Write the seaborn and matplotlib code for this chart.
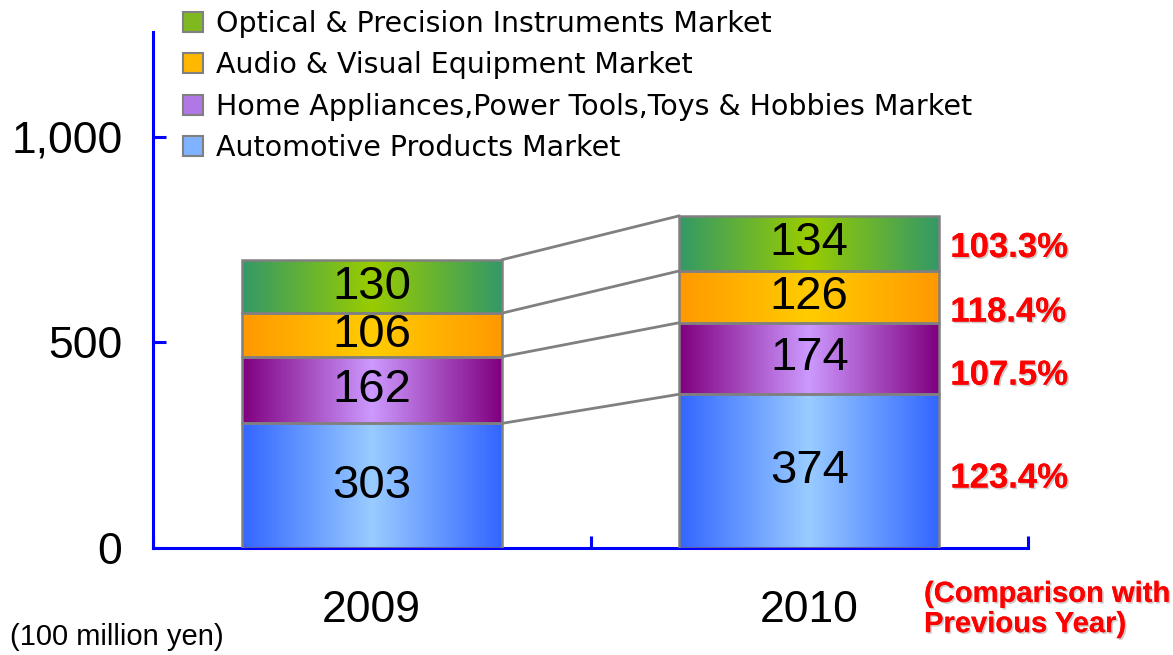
import numpy as np
import pandas as pd
import matplotlib
matplotlib.use("Agg")
import matplotlib.pyplot as plt
import matplotlib.patheffects as pe
from matplotlib.colors import to_rgb
from matplotlib.patches import Patch
import seaborn as sns

# datos
years = ["2009", "2010"]
markets = [
    "Automotive Products Market",
    "Home Appliances,Power Tools,Toys & Hobbies Market",
    "Audio & Visual Equipment Market",
    "Optical & Precision Instruments Market",
]
automotive = [303, 374]
home = [162, 174]
audio = [106, 126]
optical = [130, 134]
growth = ["123.4%", "107.5%", "118.4%", "103.3%"]

# colores del degradado (borde, centro)
edge_cols = ["#3366FF", "#800080", "#FF9900", "#339966"]
center_cols = ["#99CCFF", "#CC99FF", "#FFCC00", "#99CC00"]
legend_cols = ["#7FB2FF", "#B277E6", "#FFB800", "#80B820"]

sns.set_style("white")
plt.rcParams["font.family"] = ["Liberation Sans", "DejaVu Sans"]
plt.rcParams["text.color"] = "black"
plt.rcParams["xtick.labelcolor"] = "black"
plt.rcParams["ytick.labelcolor"] = "black"

fig = plt.figure(figsize=(11.73, 6.55), dpi=100)
ax = fig.add_axes([153 / 1173, 1 - 548 / 655, (1028 - 153) / 1173, (548 - 32) / 655])

series = [automotive, home, audio, optical]
bottom = np.zeros(2)
bar_w = 0.594
segments = []
for vals in series:
    df = pd.DataFrame({"year": years, "valor": vals})
    sns.barplot(data=df, x="year", y="valor", bottom=bottom.copy(), width=bar_w,
                errorbar=None, ax=ax, color="white", edgecolor="#808080",
                linewidth=1.8, zorder=3)
    segments.append((ax.patches[-2:], bottom.copy(), np.array(vals)))
    bottom = bottom + np.array(vals)

# degradado horizontal dentro de cada barra
for k, (patches, bots, vals) in enumerate(segments):
    e = np.array(to_rgb(edge_cols[k]))
    c = np.array(to_rgb(center_cols[k]))
    t = np.abs(np.linspace(-1, 1, 200))[:, None]
    grad = (c * (1 - t) + e * t)[None, :, :]
    for p in patches:
        p.set_facecolor("none")
        x0, y0, w, h = p.get_x(), p.get_y(), p.get_width(), p.get_height()
        im = ax.imshow(grad, extent=[x0, x0 + w, y0, y0 + h], aspect="auto",
                       zorder=2, interpolation="bilinear")
        im.set_clip_path(p)
        ax.text(x0 + w / 2, y0 + h / 2, f"{h:.0f}", ha="center", va="center",
                fontsize=34, color="black", zorder=5)

# lineas de conexion
for k, (patches, bots, vals) in enumerate(segments):
    tops = bots + vals
    ax.plot([patches[0].get_x() + patches[0].get_width(), patches[1].get_x()],
            [tops[0], tops[1]], color="#808080", lw=2, zorder=1)

# porcentajes
nudge = [-5, -12, -11, -3]
for k, (patches, bots, vals) in enumerate(segments):
    ax.annotate(growth[k], xy=(1 + bar_w / 2, bots[1] + vals[1] / 2),
                xytext=(8, nudge[k]), textcoords="offset points",
                ha="left", va="center", fontsize=25, fontweight="bold",
                color="#FF0000",
                path_effects=[pe.withSimplePatchShadow(offset=(1.2, -1.2),
                                                       shadow_rgbFace="#999999", alpha=0.5),
                              pe.Normal()],
                annotation_clip=False)

ax.set_xlim(-0.5, 1.5)
ax.set_ylim(0, 1255)
ax.set_xlabel("")
ax.set_ylabel("")
ax.set_yticks([0, 500, 1000])
ax.set_yticklabels(["0", "500", "1,000"])
ax.set_xticks([-0.5, 0.5, 1.5], minor=True)
for s in ["top", "right"]:
    ax.spines[s].set_visible(False)
for s in ["left", "bottom"]:
    ax.spines[s].set_color("#0000FF")
    ax.spines[s].set_linewidth(2.2)
ax.tick_params(axis="y", direction="in", length=9, width=2.2, color="#0000FF",
               labelsize=32, pad=22, left=True, labelcolor="black")
ax.tick_params(axis="x", which="major", length=0, labelsize=32, pad=30,
               labelcolor="black")
ax.tick_params(axis="x", which="minor", direction="in", length=9, width=2.2,
               color="#0000FF", bottom=True)

handles = [Patch(facecolor=legend_cols[k], edgecolor="#808080", linewidth=1.5)
           for k in range(4)][::-1]
leg = fig.legend(handles, markets[::-1], loc="upper left",
                 bbox_to_anchor=(180 / 1173, 1 - 7 / 655), frameon=False,
                 prop={"family": "DejaVu Sans", "size": 20.5},
                 handlelength=0.72, handleheight=0.72, handletextpad=0.44,
                 labelspacing=0.47, borderaxespad=0, borderpad=0.1)
for txt in leg.get_texts():
    txt.set_color("black")

fig.text(10 / 1173, 1 - 637 / 655, "(100 million yen)", fontsize=21,
         ha="left", va="center")
fig.text(924 / 1173, 1 - 609 / 655, "(Comparison with\nPrevious Year)",
         fontsize=21, fontweight="bold", color="#FF0000", ha="left", va="center",
         linespacing=1.1,
         path_effects=[pe.withSimplePatchShadow(offset=(1.2, -1.2),
                                                shadow_rgbFace="#999999", alpha=0.5),
                       pe.Normal()])

fig.savefig("out.png", dpi=100)
